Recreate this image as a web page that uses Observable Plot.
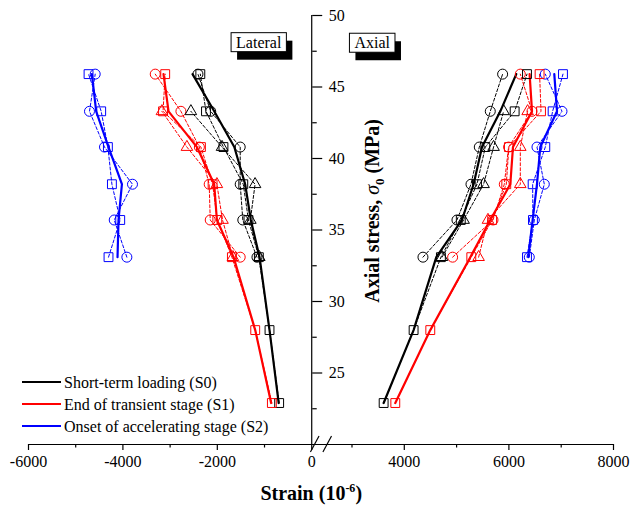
<!DOCTYPE html>
<html><head><meta charset="utf-8">
<script src="https://cdn.jsdelivr.net/npm/d3@7"></script>
<script src="https://cdn.jsdelivr.net/npm/@observablehq/plot@0.6"></script>
<style>body{margin:0;background:#fff} svg{display:block}</style>
</head><body><div id="chart"></div>
<script>
// ---------- data ----------
const stress = [22.9, 28.0, 33.1, 35.7, 38.2, 40.8, 43.3, 45.9];

// Lateral strain (10^-6)
const latS0Mean     = [-700, -894, -1105, -1290, -1410, -1640, -2065, -2525];
const latS0Circle   = [null, null, -1160, -1460, -1515, -1515, -2140, -2410];
const latS0Square   = [-690, -894, -1120, -1340, -1450, -1870, -2240, -2360];
const latS0Triangle = [null, null, -1110, -1300, -1200, -1900, -2560, null];

const latS1Mean     = [-860, -1197, -1656, -2009, -2066, -2432, -3033, -3140];
const latS1Circle   = [null, null, -1515, -2150, -2172, -2380, -2771, -3315];
const latS1Square   = [-844, -1197, -1691, -2000, -2100, -2347, -3150, -3104];
const latS1Triangle = [null, null, -1670, -1890, -2009, -2644, -3174, null];

const latS2Mean     = [null, null, -4114, -4093, -4021, -4305, -4566, -4657];
const latS2Circle   = [null, null, -3916, -4184, -3797, -4390, -4708, -4587];
const latS2Square   = [null, null, -4305, -4057, -4233, -4318, -4460, -4728];

// Axial strain (10^-6)
const axS0Mean     = [3605, 4178, 4612, 5103, 5325, 5486, 5836, 6141];
const axS0Circle   = [null, null, 4357, 5007, 5275, 5434, 5644, 5880];
const axS0Square   = [3605, 4178, 4700, 5080, 5390, 5549, 6110, 6346];
const axS0Triangle = [null, null, 4721, 5134, 5516, 5707, 5899, null];

const axS1Mean     = [3828, 4497, 5262, 5644, 6027, 6078, 6442, 6396];
const axS1Circle   = [null, null, 4924, 5696, 5912, 5994, 6442, 6218];
const axS1Square   = [3828, 4497, 5281, 5680, 5950, 6000, 6614, 6587];
const axS1Triangle = [null, null, 5421, 5600, 6218, 6218, 6358, null];

const axS2Mean     = [null, null, 6370, 6454, 6537, 6600, 6920, 6868];
const axS2Circle   = [null, null, 6390, 6486, 6677, 6537, 7015, 6696];
const axS2Square   = [null, null, 6346, 6460, 6454, 6696, 6836, 7034];

const stages = ["S0", "S1", "S2"];
const stageColors = ["#000000", "#ff0000", "#0000ff"];
const legendLabels = ["Short-term loading (S0)", "End of transient stage (S1)", "Onset of accelerating stage (S2)"];
const sideLabels = ["Lateral", "Axial"];
const xMajorTicks = [-6000, -4000, -2000, 0, 4000, 6000, 8000];
const xMinorTicks = [-5000, -3000, -1000, 3000, 5000, 7000];
const yMajorTicks = [25, 30, 35, 40, 45, 50];
const yMinorTicks = [22.5, 27.5, 32.5, 37.5, 42.5, 47.5];

// ---------- broken x axis ----------
const breakEnd = 2230;      // strain value where the right segment starts
const rightStretch = 1.108; // right segment is drawn a little wider per unit
const u = v => v <= 0 ? v : (v - breakEnd) * rightStretch;
const tickLabel = new Map(xMajorTicks.map(t => [u(t), String(t)]));

// ---------- tidy table ----------
const series = [
  ["lat", "S0", "mean", latS0Mean], ["lat", "S0", "circle", latS0Circle], ["lat", "S0", "square", latS0Square], ["lat", "S0", "triangle", latS0Triangle],
  ["lat", "S1", "mean", latS1Mean], ["lat", "S1", "circle", latS1Circle], ["lat", "S1", "square", latS1Square], ["lat", "S1", "triangle", latS1Triangle],
  ["lat", "S2", "mean", latS2Mean], ["lat", "S2", "circle", latS2Circle], ["lat", "S2", "square", latS2Square],
  ["ax", "S0", "mean", axS0Mean], ["ax", "S0", "circle", axS0Circle], ["ax", "S0", "square", axS0Square], ["ax", "S0", "triangle", axS0Triangle],
  ["ax", "S1", "mean", axS1Mean], ["ax", "S1", "circle", axS1Circle], ["ax", "S1", "square", axS1Square], ["ax", "S1", "triangle", axS1Triangle],
  ["ax", "S2", "mean", axS2Mean], ["ax", "S2", "circle", axS2Circle], ["ax", "S2", "square", axS2Square]
];
const rows = [];
for (const [side, stage, kind, vals] of series) {
  vals.forEach((v, i) => {
    if (v != null) rows.push({side, stage, kind, key: side + stage + kind, strain: v, stress: stress[i]});
  });
}
const meanRows = rows.filter(d => d.kind === "mean");
const gaugeRows = rows.filter(d => d.kind !== "mean");

// ---------- layout ----------
const W = 632, H = 509;
const mL = 28, mR = 19, mT = 15, mB = 65;
const xDomain = [-6000, u(8000)];
const x0px = mL + (0 - xDomain[0]) / (xDomain[1] - xDomain[0]) * (W - mL - mR);
const yAxisShift = x0px - (W - mR);
const FONT = "'Liberation Serif', 'Times New Roman', serif";

const measure = (() => {
  const ctx = document.createElement("canvas").getContext("2d");
  return (txt, size, weight = "normal") => { ctx.font = `${weight} ${size}px 'Liberation Serif'`; return ctx.measureText(txt).width; };
})();

function sideBoxes(index, scales) {
  const g = d3.create("svg:g").attr("font-family", FONT).attr("font-size", 16);
  const spots = [[-1112, 48.1], [3396, 48.06]];
  sideLabels.forEach((lab, i) => {
    const cx = scales.x(u(spots[i][0])), cy = scales.y(spots[i][1]);
    const w = measure(lab, 16) + 10, h = 19;
    g.append("rect").attr("x", cx - w / 2 + 6).attr("y", cy - h / 2 + 8).attr("width", w).attr("height", h).attr("fill", "#000");
    g.append("rect").attr("x", cx - w / 2).attr("y", cy - h / 2).attr("width", w).attr("height", h).attr("fill", "#fff").attr("stroke", "#000").attr("stroke-width", 1);
    g.append("text").attr("x", cx).attr("y", cy).attr("dy", "0.35em").attr("text-anchor", "middle").text(lab);
  });
  return g.node();
}

function legend() {
  const g = d3.create("svg:g").attr("font-family", FONT).attr("font-size", 16).attr("text-anchor", "start");
  legendLabels.forEach((lab, i) => {
    const y = 382 + i * 22;
    g.append("line").attr("x1", 22).attr("x2", 61).attr("y1", y).attr("y2", y).attr("stroke", stageColors[i]).attr("stroke-width", 2);
    g.append("text").attr("x", 64).attr("y", y).attr("dy", "0.35em").attr("text-anchor", "start").text(lab);
  });
  return g.node();
}

function axisBreak(index, scales) {
  const g = d3.create("svg:g").attr("stroke", "#000").attr("stroke-width", 1.2);
  const bx = scales.x(0), by = scales.y(20);
  [3.5, 16].forEach(off => {
    g.append("line").attr("x1", bx + off - 4.3).attr("y1", by + 8).attr("x2", bx + off + 4.3).attr("y2", by - 8);
  });
  return g.node();
}

function titles(index, scales) {
  const g = d3.create("svg:g").attr("font-family", FONT).attr("font-weight", "bold").attr("font-size", 20);
  const tx = g.append("text").attr("x", scales.x(0)).attr("y", 500).attr("text-anchor", "middle");
  tx.append("tspan").text("Strain (10");
  tx.append("tspan").attr("font-size", 12).attr("dy", -8).text("-6");
  tx.append("tspan").attr("dy", 8).text(")");
  const ty = g.append("text").attr("transform", `translate(${scales.x(0) + 68},${scales.y(36.3)}) rotate(-90)`).attr("text-anchor", "middle");
  ty.append("tspan").text("Axial stress, ");
  ty.append("tspan").attr("font-style", "italic").attr("font-weight", "normal").text("σ");
  ty.append("tspan").attr("font-size", 13).attr("dy", 5).text("0");
  ty.append("tspan").attr("dy", -5).text(" (MPa)");
  return g.node();
}

const X = d => u(d.strain);
const chart = Plot.plot({
  width: W, height: H,
  marginLeft: mL, marginRight: mR, marginTop: mT, marginBottom: mB,
  style: {fontFamily: FONT, fontSize: "16px", background: "#fff"},
  x: {domain: xDomain},
  y: {domain: [20, 50]},
  color: {domain: stages, range: stageColors},
  marks: [
    Plot.ruleY([20], {stroke: "#000", strokeWidth: 1.2}),
    Plot.ruleX([0], {y1: 20, y2: 50, stroke: "#000", strokeWidth: 1.2}),
    Plot.axisX(xMajorTicks.map(u), {tickSize: 6, tickPadding: 5, tickFormat: d => tickLabel.get(d), label: null, strokeWidth: 1.2}),
    Plot.axisX(xMinorTicks.map(u), {tickSize: 3.5, tickFormat: () => "", label: null, strokeWidth: 1.2}),
    Plot.axisY(yMajorTicks, {anchor: "right", dx: yAxisShift, tickSize: 10, tickPadding: 7, label: null, strokeWidth: 1.2}),
    Plot.axisY(yMinorTicks, {anchor: "right", dx: yAxisShift, tickSize: 4.5, tickFormat: () => "", label: null, strokeWidth: 1.2}),
    axisBreak,
    Plot.line(gaugeRows, {x: X, y: "stress", z: "key", stroke: "stage", strokeWidth: 1, strokeDasharray: "3,2"}),
    Plot.line(meanRows, {x: X, y: "stress", z: "key", stroke: "stage", strokeWidth: 2.2}),
    Plot.dot(gaugeRows.filter(d => d.kind === "circle"), {x: X, y: "stress", symbol: "circle", r: 5, stroke: "stage", fill: "none", strokeWidth: 1}),
    Plot.dot(gaugeRows.filter(d => d.kind === "square"), {x: X, y: "stress", symbol: "square", r: 5, stroke: "stage", fill: "none", strokeWidth: 1}),
    Plot.dot(gaugeRows.filter(d => d.kind === "triangle"), {x: X, y: "stress", symbol: "triangle", r: 4.3, stroke: "stage", fill: "none", strokeWidth: 1}),
    sideBoxes,
    legend,
    titles
  ]
});
document.getElementById("chart").append(chart);
</script>
</body></html>
